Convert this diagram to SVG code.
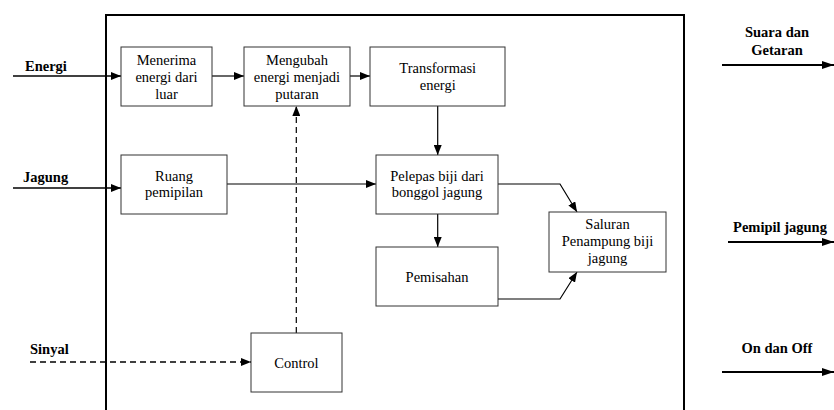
<svg xmlns="http://www.w3.org/2000/svg" width="834" height="410" viewBox="0 0 834 410">
<style>
text{font-family:'Liberation Serif','Times New Roman',serif;font-size:14.5px;fill:#000;text-anchor:middle}
.lbl{font-weight:bold;text-anchor:start}
.lblc{font-weight:bold}
.box{fill:#fff;stroke:#333;stroke-width:1}
.c{fill:none;stroke:#000;stroke-width:1.2}
.d{stroke-dasharray:6 4}
.io{fill:none;stroke:#000;stroke-width:1.6}
.out{fill:none;stroke:#000;stroke-width:2}
</style>
<defs>
<marker id="ah" viewBox="0 0 10 8" refX="10" refY="4" markerWidth="10" markerHeight="8" markerUnits="userSpaceOnUse" orient="auto"><path d="M0,0L10,4L0,8z" fill="#000"/></marker>
<marker id="ah2" viewBox="0 0 12 8" refX="12" refY="4" markerWidth="12" markerHeight="8" markerUnits="userSpaceOnUse" orient="auto"><path d="M0,0L12,4L0,8z" fill="#000"/></marker>
</defs>
<rect id="frame" x="106" y="15" width="578" height="420" fill="none" stroke="#000" stroke-width="2"/>
<g id="connectors">
<line class="io" x1="13" y1="76" x2="121" y2="76" marker-end="url(#ah)"/>
<line class="io" x1="13" y1="188" x2="121" y2="188" marker-end="url(#ah)"/>
<line class="io d" x1="30" y1="362" x2="251" y2="362" marker-end="url(#ah)"/>
<line class="c" x1="212" y1="76" x2="244" y2="76" marker-end="url(#ah)"/>
<line class="c" x1="350" y1="76" x2="370" y2="76" marker-end="url(#ah)"/>
<line class="c" x1="227" y1="184" x2="376" y2="184" marker-end="url(#ah)"/>
<line class="c" x1="437.7" y1="106" x2="437.7" y2="155" marker-end="url(#ah)"/>
<line class="c" x1="437.7" y1="214" x2="437.7" y2="247" marker-end="url(#ah)"/>
<polyline class="c" points="498,184 560,184 577,212" marker-end="url(#ah)"/>
<polyline class="c" points="498,299 560,299 577,272" marker-end="url(#ah)"/>
<line class="c d" x1="296.3" y1="333" x2="296.3" y2="106" marker-end="url(#ah)"/>
<line class="out" x1="722" y1="65" x2="834" y2="65" marker-end="url(#ah2)"/>
<line class="out" x1="728" y1="242" x2="834" y2="242" marker-end="url(#ah2)"/>
<line class="out" x1="722" y1="372" x2="834" y2="372" marker-end="url(#ah2)"/>
</g>
<g id="n-menerima"><rect class="box" x="121" y="47" width="91" height="59"/><text x="166.5" y="65">Menerima</text><text x="166.5" y="82">energi dari</text><text x="166.5" y="99">luar</text></g>
<g id="n-mengubah"><rect class="box" x="244" y="47" width="106" height="59"/><text x="297" y="65">Mengubah</text><text x="297" y="82">energi menjadi</text><text x="297" y="99">putaran</text></g>
<g id="n-transformasi"><rect class="box" x="370" y="47" width="135" height="59"/><text x="437.7" y="73">Transformasi</text><text x="437.7" y="90">energi</text></g>
<g id="n-ruang"><rect class="box" x="121" y="155" width="106" height="59"/><text x="174" y="181">Ruang</text><text x="174" y="197">pemipilan</text></g>
<g id="n-pelepas"><rect class="box" x="376" y="155" width="122" height="59"/><text x="437" y="181">Pelepas biji dari</text><text x="437" y="197">bonggol jagung</text></g>
<g id="n-pemisahan"><rect class="box" x="376" y="247" width="122" height="59"/><text x="437" y="282">Pemisahan</text></g>
<g id="n-saluran"><rect class="box" x="549" y="212" width="117" height="60"/><text x="607.5" y="229">Saluran</text><text x="607.5" y="246">Penampung biji</text><text x="607.5" y="263">jagung</text></g>
<g id="n-control"><rect class="box" x="251" y="333" width="91" height="59"/><text x="296.5" y="368">Control</text></g>
<g id="labels">
<text class="lbl" x="25" y="71">Energi</text>
<text class="lbl" x="23" y="182">Jagung</text>
<text class="lbl" x="30" y="354">Sinyal</text>
<text class="lblc" x="777" y="37">Suara dan</text>
<text class="lblc" x="777" y="55">Getaran</text>
<text class="lblc" x="780" y="232">Pemipil jagung</text>
<text class="lblc" x="777" y="353">On dan Off</text>
</g>
</svg>
